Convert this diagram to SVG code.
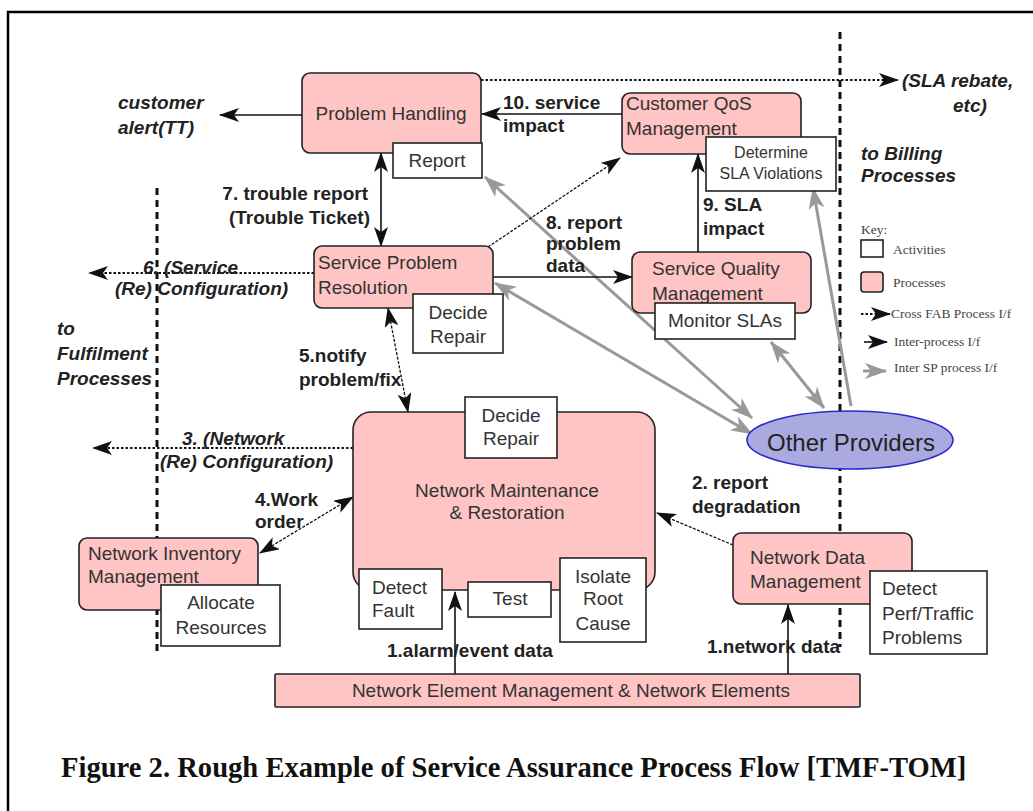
<svg xmlns="http://www.w3.org/2000/svg" width="1033" height="811" viewBox="0 0 1033 811">
<style>
.proc{fill:#ffc4c4;stroke:#222;stroke-width:1.6}
.act{fill:#fff;stroke:#222;stroke-width:1.6}
.nt{font-family:"Liberation Sans",Arial,sans-serif;font-size:19px;fill:#333}
.st{font-family:"Liberation Sans",Arial,sans-serif;font-size:16px;fill:#333}
.lb{font-family:"Liberation Sans",Arial,sans-serif;font-size:19px;font-weight:bold;fill:#222}
.li{font-family:"Liberation Sans",Arial,sans-serif;font-size:19px;font-weight:bold;font-style:italic;fill:#222}
.key{font-family:"Liberation Serif","Times New Roman",serif;font-size:13.5px;fill:#444}
.solid{stroke:#111;stroke-width:1.6;fill:none}
.thin{stroke:#111;stroke-width:1.3;fill:none;stroke-dasharray:3,1.5}
.cross{stroke:#111;stroke-width:2;fill:none;stroke-dasharray:2.5,2}
.grey{stroke:#999;stroke-width:3;fill:none}
.bound{stroke:#111;stroke-width:3;fill:none;stroke-dasharray:7,5}
</style>
<defs>
<marker id="ah" viewBox="0 0 20 14" refX="19" refY="7" markerWidth="20" markerHeight="14" markerUnits="userSpaceOnUse" orient="auto-start-reverse">
<path d="M0,0 L20,7 L0,14 L5,7 z" fill="#111"/>
</marker>
<marker id="gh" viewBox="0 0 22 16" refX="21" refY="8" markerWidth="22" markerHeight="16" markerUnits="userSpaceOnUse" orient="auto-start-reverse">
<path d="M0,0 L22,8 L0,16 L6,8 z" fill="#999"/>
</marker>
</defs>
<rect width="1033" height="811" fill="#fff"/>
<path d="M8,811 V12 H1033" fill="none" stroke="#000" stroke-width="2.5"/>

<g id="boundaries">
<line class="bound" x1="157" y1="188" x2="157" y2="652"/>
<line class="bound" x1="840" y1="32" x2="840" y2="647"/>
</g>

<g id="connectors">
<line class="grey" x1="485" y1="177" x2="752" y2="418" marker-start="url(#gh)" marker-end="url(#gh)"/>
<line class="grey" x1="495" y1="283" x2="752" y2="434" marker-start="url(#gh)" marker-end="url(#gh)"/>
<line class="grey" x1="771" y1="342" x2="824" y2="408" marker-start="url(#gh)" marker-end="url(#gh)"/>
<line class="grey" x1="851" y1="406" x2="813" y2="188" marker-end="url(#gh)"/>
<line class="solid" x1="381" y1="153" x2="381" y2="246" marker-start="url(#ah)" marker-end="url(#ah)"/>
<line class="thin" x1="388" y1="308" x2="408" y2="412" marker-start="url(#ah)" marker-end="url(#ah)"/>
<line class="thin" x1="260" y1="553" x2="353" y2="497" marker-start="url(#ah)" marker-end="url(#ah)"/>
<line class="solid" x1="455" y1="674" x2="455" y2="592" marker-end="url(#ah)"/>
<line class="solid" x1="788" y1="674" x2="788" y2="605" marker-end="url(#ah)"/>
<line class="thin" x1="733" y1="545" x2="657" y2="513" marker-end="url(#ah)"/>
<line class="solid" x1="698" y1="252" x2="698" y2="154" marker-end="url(#ah)"/>
<line class="solid" x1="622" y1="114" x2="482" y2="114" marker-end="url(#ah)"/>
<line class="solid" x1="302" y1="115" x2="220" y2="115" marker-end="url(#ah)"/>
<line class="thin" x1="488" y1="247" x2="620" y2="158" marker-end="url(#ah)"/>
<line class="solid" x1="493" y1="277" x2="632" y2="277" marker-end="url(#ah)"/>
<line class="cross" x1="314" y1="273" x2="89" y2="273" marker-end="url(#ah)"/>
<line class="cross" x1="353" y1="448" x2="93" y2="448" marker-end="url(#ah)"/>
<line class="cross" x1="481" y1="80" x2="898" y2="80" marker-end="url(#ah)"/>
</g>

<g id="problem-handling">
<rect class="proc" x="302" y="73" width="179" height="80" rx="8"/>
<text class="nt" x="391" y="120" text-anchor="middle">Problem Handling</text>
</g>
<g id="report">
<rect class="act" x="393" y="143" width="89" height="35"/>
<text class="nt" x="437" y="167" text-anchor="middle">Report</text>
</g>
<g id="customer-qos">
<rect class="proc" x="622" y="93" width="179" height="61" rx="8"/>
<text class="nt" x="626" y="110">Customer QoS</text>
<text class="nt" x="626" y="135">Management</text>
</g>
<g id="determine-sla">
<rect class="act" x="706" y="137" width="130" height="54"/>
<text class="st" x="771" y="158" text-anchor="middle">Determine</text>
<text class="st" x="771" y="179" text-anchor="middle">SLA Violations</text>
</g>
<g id="service-problem-resolution">
<rect class="proc" x="314" y="246" width="179" height="62" rx="8"/>
<text class="nt" x="318" y="269">Service Problem</text>
<text class="nt" x="318" y="294">Resolution</text>
</g>
<g id="decide-repair-spr">
<rect class="act" x="413" y="294" width="90" height="59"/>
<text class="nt" x="458" y="319" text-anchor="middle">Decide</text>
<text class="nt" x="458" y="343" text-anchor="middle">Repair</text>
</g>
<g id="service-quality">
<rect class="proc" x="632" y="252" width="179" height="61" rx="8"/>
<text class="nt" x="652" y="275">Service Quality</text>
<text class="nt" x="652" y="300">Management</text>
</g>
<g id="monitor-slas">
<rect class="act" x="655" y="303" width="140" height="36"/>
<text class="nt" x="725" y="327" text-anchor="middle">Monitor SLAs</text>
</g>
<g id="network-maintenance">
<rect class="proc" x="353" y="412" width="302" height="178" rx="18"/>
<text class="nt" x="507" y="497" text-anchor="middle">Network Maintenance</text>
<text class="nt" x="507" y="519" text-anchor="middle">&amp; Restoration</text>
</g>
<g id="decide-repair-nmr">
<rect class="act" x="465" y="397" width="92" height="61"/>
<text class="nt" x="511" y="422" text-anchor="middle">Decide</text>
<text class="nt" x="511" y="445" text-anchor="middle">Repair</text>
</g>
<g id="detect-fault">
<rect class="act" x="359" y="569" width="83" height="60"/>
<text class="nt" x="372" y="594">Detect</text>
<text class="nt" x="372" y="617">Fault</text>
</g>
<g id="test">
<rect class="act" x="468" y="582" width="83" height="35"/>
<text class="nt" x="510" y="605" text-anchor="middle">Test</text>
</g>
<g id="isolate-root-cause">
<rect class="act" x="560" y="558" width="86" height="84"/>
<text class="nt" x="603" y="583" text-anchor="middle">Isolate</text>
<text class="nt" x="603" y="605" text-anchor="middle">Root</text>
<text class="nt" x="603" y="630" text-anchor="middle">Cause</text>
</g>
<g id="network-inventory">
<rect class="proc" x="79" y="538" width="179" height="72" rx="8"/>
<text class="nt" x="88" y="560">Network Inventory</text>
<text class="nt" x="88" y="583">Management</text>
</g>
<g id="allocate-resources">
<rect class="act" x="161" y="585" width="119" height="61"/>
<text class="nt" x="221" y="609" text-anchor="middle">Allocate</text>
<text class="nt" x="221" y="634" text-anchor="middle">Resources</text>
</g>
<g id="network-data">
<rect class="proc" x="733" y="533" width="179" height="71" rx="8"/>
<text class="nt" x="750" y="564">Network Data</text>
<text class="nt" x="750" y="588">Management</text>
</g>
<g id="detect-perf">
<rect class="act" x="870" y="571" width="117" height="83"/>
<text class="nt" x="882" y="595">Detect</text>
<text class="nt" x="882" y="620">Perf/Traffic</text>
<text class="nt" x="882" y="644">Problems</text>
</g>
<g id="network-element">
<rect class="proc" x="275" y="674" width="585" height="33" rx="1"/>
<text class="nt" x="571" y="697" text-anchor="middle">Network Element Management &amp; Network Elements</text>
</g>
<g id="other-providers">
<ellipse cx="850" cy="440" rx="103" ry="29" fill="#aaaae0" stroke="#2a2acc" stroke-width="1.6"/>
<text class="nt" x="851" y="451" text-anchor="middle" style="font-size:24px;fill:#222">Other Providers</text>
</g>

<g id="labels">
<text class="li" x="118" y="109">customer</text>
<text class="li" x="118" y="134">alert(TT)</text>
<text class="lb" x="503" y="109">10. service</text>
<text class="lb" x="503" y="132">impact</text>
<text class="li" x="902" y="87">(SLA rebate,</text>
<text class="li" x="953" y="112">etc)</text>
<text class="li" x="861" y="160">to Billing</text>
<text class="li" x="861" y="182">Processes</text>
<text class="lb" x="368" y="200" text-anchor="end">7. trouble report</text>
<text class="lb" x="370" y="224" text-anchor="end">(Trouble Ticket)</text>
<text class="lb" x="546" y="229">8. report</text>
<text class="lb" x="546" y="250">problem</text>
<text class="lb" x="546" y="272">data</text>
<text class="lb" x="703" y="211">9. SLA</text>
<text class="lb" x="703" y="235">impact</text>
<text class="li" x="143" y="274">6. (Service</text>
<text class="li" x="115" y="295">(Re) Configuration)</text>
<text class="li" x="57" y="335">to</text>
<text class="li" x="57" y="360">Fulfilment</text>
<text class="li" x="57" y="385">Processes</text>
<text class="lb" x="299" y="362">5.notify</text>
<text class="lb" x="299" y="386">problem/fix</text>
<text class="li" x="182" y="445">3. (Network</text>
<text class="li" x="160" y="468">(Re) Configuration)</text>
<text class="lb" x="255" y="506">4.Work</text>
<text class="lb" x="255" y="528">order</text>
<text class="lb" x="692" y="489">2. report</text>
<text class="lb" x="692" y="513">degradation</text>
<text class="lb" x="387" y="657">1.alarm/event data</text>
<text class="lb" x="707" y="653">1.network data</text>
</g>

<g id="legend">
<text class="key" x="861" y="234">Key:</text>
<rect class="act" x="861" y="240" width="22" height="17"/>
<text class="key" x="893" y="254">Activities</text>
<rect class="proc" x="861" y="272" width="22" height="20" rx="3"/>
<text class="key" x="893" y="287">Processes</text>
<line class="cross" x1="861" y1="314" x2="890" y2="314" marker-end="url(#ah)"/>
<text class="key" x="891" y="318">Cross FAB Process I/f</text>
<line class="solid" x1="864" y1="342" x2="887" y2="342" marker-end="url(#ah)"/>
<text class="key" x="894" y="346">Inter-process I/f</text>
<line class="grey" x1="863" y1="371" x2="886" y2="371" marker-end="url(#gh)"/>
<text class="key" x="894" y="372">Inter SP process I/f</text>
</g>

<text x="61" y="777" font-family="Liberation Serif,'Times New Roman',serif" font-size="28.6" font-weight="bold" fill="#111">Figure 2. Rough Example of Service Assurance Process Flow [TMF-TOM]</text>
</svg>
